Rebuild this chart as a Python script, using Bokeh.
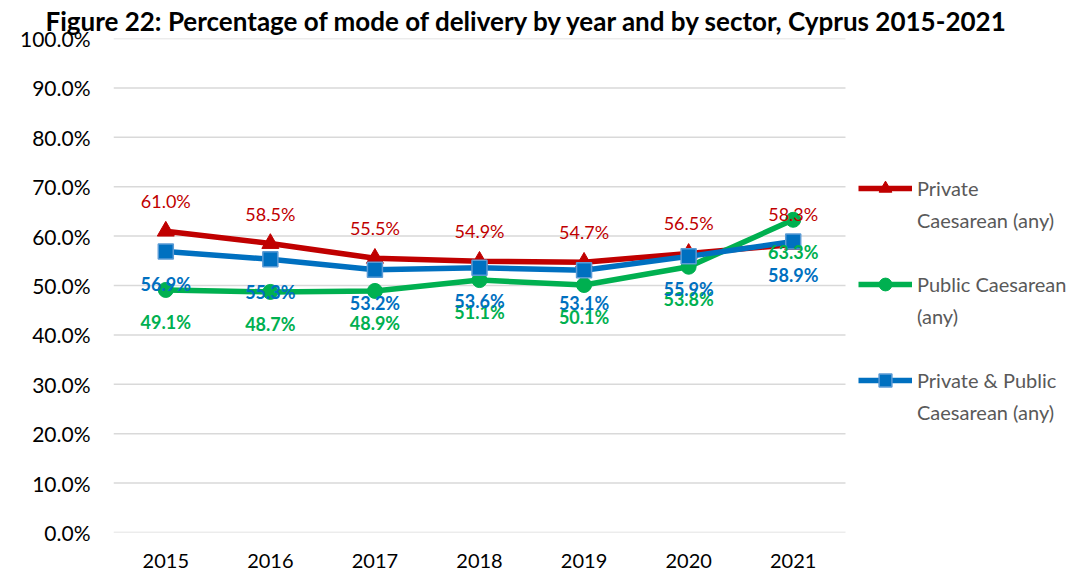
from bokeh.plotting import figure
from bokeh.models import (Range1d, FixedTicker, PrintfTickFormatter,
                          Legend, LegendItem, ColumnDataSource)
from bokeh.core.properties import value
from bokeh.embed import file_html
from bokeh.resources import INLINE

years = ["2015", "2016", "2017", "2018", "2019", "2020", "2021"]
private = [61.0, 58.5, 55.5, 54.9, 54.7, 56.5, 58.3]
public = [49.1, 48.7, 48.9, 51.1, 50.1, 53.8, 63.3]
combined = [56.9, 55.3, 53.2, 53.6, 53.1, 55.9, 58.9]
y_ticks = [0, 10, 20, 30, 40, 50, 60, 70, 80, 90, 100]
series_lines = [["Private", "Caesarean (any)"],
                ["Public Caesarean", "(any)"],
                ["Private & Public", "Caesarean (any)"]]
title_text = "Figure 22: Percentage of mode of delivery by year and by sector, Cyprus 2015-2021"

FONT = "Lato"
RED, GREEN, BLUE = "#C00000", "#00B050", "#0070C0"

# category slots: one unit per year; extra room on the right holds the legend
xs = list(range(len(years)))
slot_lo, slot_hi = -0.5, len(years) - 0.5

p = figure(width=1085, height=577,
           x_range=Range1d(slot_lo, slot_lo + 972 / 104.571),
           y_range=Range1d(0, 100),
           output_backend="svg", toolbar_location=None,
           min_border_left=113, min_border_right=0,
           min_border_top=38, min_border_bottom=45)
p.outline_line_color = None
p.background_fill_color = "white"
p.border_fill_color = "white"

p.title.text = title_text
p.title.align = "left"
p.title.offset = -68
p.title.text_font = FONT
p.title.text_font_size = "26px"
p.title.text_font_style = "bold"
p.title.text_color = "#000000"
p.title.standoff = 0
p.title.vertical_align = "top"

p.xgrid.grid_line_color = None
p.ygrid.grid_line_color = None
p.yaxis.ticker = FixedTicker(ticks=y_ticks)
p.yaxis.formatter = PrintfTickFormatter(format="%.1f%%")
p.xaxis.ticker = FixedTicker(ticks=xs)
p.xaxis.major_label_overrides = {x: y for x, y in zip(xs, years)}
for ax in (p.xaxis, p.yaxis):
    ax.axis_line_color = None
    ax.major_tick_line_color = None
    ax.minor_tick_line_color = None
    ax.major_tick_out = 0
    ax.major_tick_in = 0
    ax.major_label_text_font = FONT
    ax.major_label_text_font_size = "20px"
    ax.major_label_text_color = "#000000"
p.yaxis.major_label_text_font_size = "21px"
p.yaxis.major_label_standoff = 23
p.xaxis.major_label_standoff = 21

# horizontal gridlines spanning only the category area
p.segment(x0=[slot_lo] * len(y_ticks), x1=[slot_hi] * len(y_ticks),
          y0=y_ticks, y1=y_ticks, line_color="#D9D9D9", line_width=1.5)

src = ColumnDataSource(dict(
    x=xs, private=private, public=public, combined=combined,
    lp=[f"{v:.1f}%" for v in private],
    lu=[f"{v:.1f}%" for v in public],
    lc=[f"{v:.1f}%" for v in combined],
))

r_line = p.line("x", "private", source=src, line_color=RED, line_width=5.5)
r_mark = p.scatter("x", "private", source=src, marker="triangle", size=17,
                   fill_color=RED, line_color=RED)
g_line = p.line("x", "public", source=src, line_color=GREEN, line_width=5.5)
g_mark = p.scatter("x", "public", source=src, marker="circle", size=15,
                   fill_color=GREEN, line_color=GREEN)
b_line = p.line("x", "combined", source=src, line_color=BLUE, line_width=5.5)
b_mark = p.scatter("x", "combined", source=src, marker="square", size=15,
                   fill_color=BLUE, line_color="#5B9BD5", line_width=1.5)

p.text("x", "private", text="lp", source=src, y_offset=-30,
       text_align="center", text_baseline="middle", text_color=RED,
       text_font=value(FONT), text_font_size="18px")
p.text("x", "public", text="lu", source=src, y_offset=32,
       text_align="center", text_baseline="middle", text_color=GREEN,
       text_font=value(FONT), text_font_size="18px", text_font_style="bold")
p.text("x", "combined", text="lc", source=src, y_offset=33,
       text_align="center", text_baseline="middle", text_color=BLUE,
       text_font=value(FONT), text_font_size="18px", text_font_style="bold")

items = []
groups = [(r_line, r_mark), (g_line, g_mark), (b_line, b_mark)]
for i, (lines, rends) in enumerate(zip(series_lines, groups)):
    items.append(LegendItem(label=lines[0], renderers=list(rends)))
    items.append(LegendItem(label=lines[1], renderers=[]))
    if i < 2:
        items.append(LegendItem(label=" ", renderers=[]))

legend = Legend(items=items, location=(745, 104))
legend.background_fill_alpha = 0
legend.border_line_alpha = 0
legend.padding = 0
legend.margin = 0
legend.spacing = 0
legend.glyph_width = 54
legend.glyph_height = 32
legend.label_height = 32
legend.label_standoff = 5
legend.label_text_font = FONT
legend.label_text_font_size = "20px"
legend.label_text_color = "#595959"
p.add_layout(legend)

open("out.html", "w").write(file_html(p, INLINE))
